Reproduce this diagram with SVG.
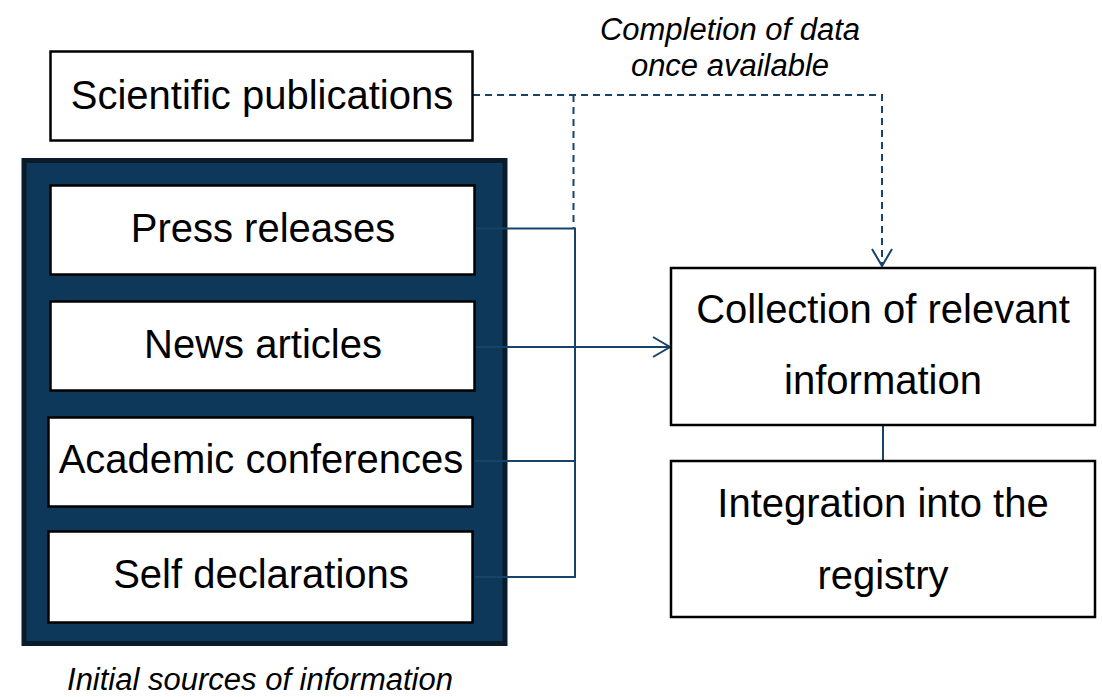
<svg xmlns="http://www.w3.org/2000/svg" width="1102" height="697" viewBox="0 0 1102 697">
<defs>
<style>
.box{fill:#ffffff;stroke:#000000;stroke-width:2.5}
.t{font-family:"Liberation Sans",Arial,sans-serif;font-size:40px;fill:#000000;text-anchor:middle}
.it{font-family:"Liberation Sans",Arial,sans-serif;font-size:31px;font-style:italic;fill:#000000;text-anchor:middle}
.c{fill:none;stroke:#17426a;stroke-width:2}
.d{fill:none;stroke:#17426a;stroke-width:2;stroke-dasharray:7,5}
</style>
<marker id="open" markerWidth="20" markerHeight="24" refX="18" refY="11" orient="auto" markerUnits="userSpaceOnUse">
<path d="M1,1 L18,11 L1,21" fill="none" stroke="#17426a" stroke-width="2"/>
</marker>
</defs>
<rect width="1102" height="697" fill="#ffffff"/>

<g id="label-completion">
<text class="it" x="730" y="40">Completion of data</text>
<text class="it" x="730" y="76">once available</text>
</g>

<g id="container">
<rect x="24" y="160.5" width="481" height="483" fill="#0e385a" stroke="#0a1b2b" stroke-width="5"/>
</g>

<g id="connectors">
<path class="d" d="M473,95 H882 V266" marker-end="url(#open)"/>
<path class="d" d="M573.5,95 V229"/>
<path class="c" d="M475,228.5 H575 V577 H475"/>
<path class="c" d="M475,461 H575"/>
<path class="c" d="M475,347 H670" marker-end="url(#open)"/>
<path class="c" d="M883,425 V461"/>
</g>

<g id="scientific-publications">
<rect class="box" x="50.5" y="51.5" width="422" height="89"/>
<text class="t" x="262" y="109">Scientific publications</text>
</g>

<g id="press-releases">
<rect class="box" x="50.5" y="185.5" width="424" height="89"/>
<text class="t" x="263" y="242">Press releases</text>
</g>

<g id="news-articles">
<rect class="box" x="50.5" y="301.5" width="424" height="89"/>
<text class="t" x="263" y="358">News articles</text>
</g>

<g id="academic-conferences">
<rect class="box" x="48.5" y="417.5" width="424" height="89"/>
<text class="t" x="261" y="473">Academic conferences</text>
</g>

<g id="self-declarations">
<rect class="box" x="48.5" y="531.5" width="424" height="91"/>
<text class="t" x="261" y="588">Self declarations</text>
</g>

<g id="label-initial">
<text class="it" x="260" y="690">Initial sources of information</text>
</g>

<g id="collection">
<rect class="box" x="671" y="268" width="424" height="157"/>
<text class="t" x="883" y="323">Collection of relevant</text>
<text class="t" x="883" y="394">information</text>
</g>

<g id="integration">
<rect class="box" x="671" y="461" width="424" height="156"/>
<text class="t" x="883" y="517">Integration into the</text>
<text class="t" x="883" y="589">registry</text>
</g>
</svg>
